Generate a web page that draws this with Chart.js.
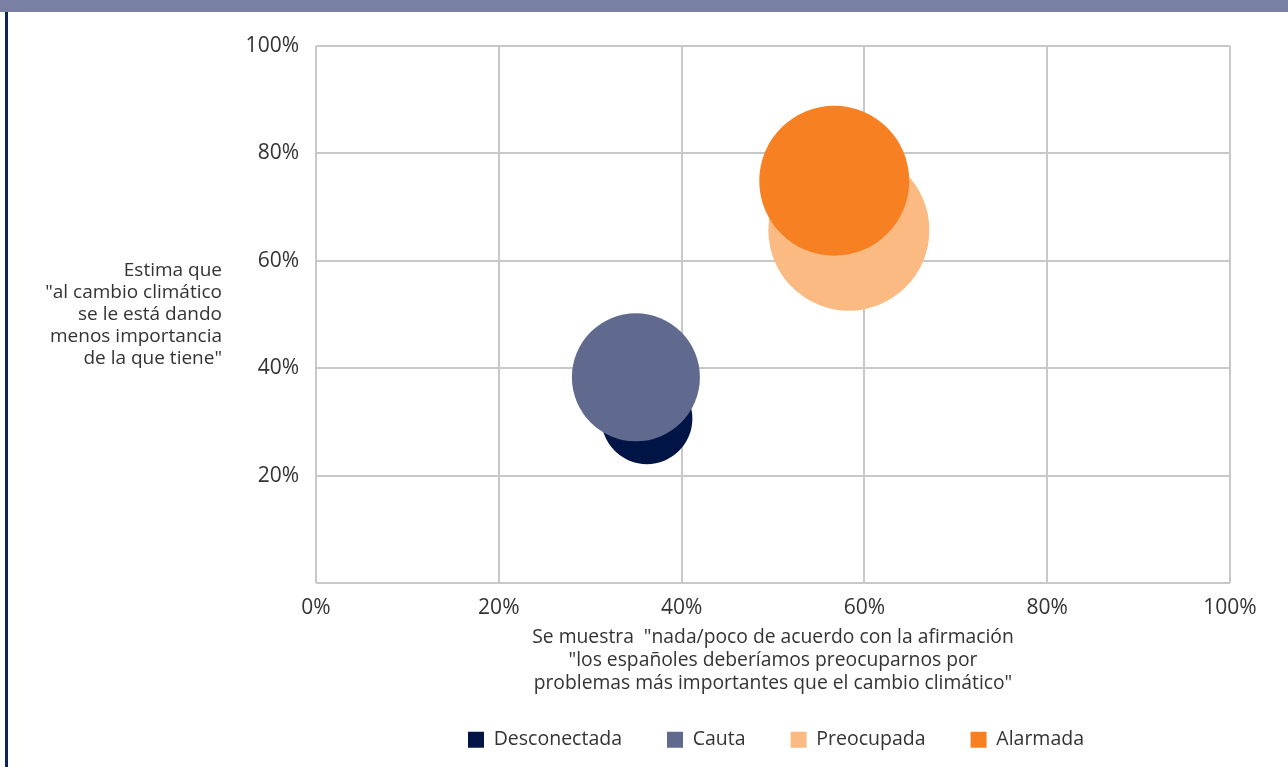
<!DOCTYPE html>
<html><head><meta charset="utf-8">
<script src="https://cdn.jsdelivr.net/npm/chart.js@4.4.1/dist/chart.umd.min.js"></script>
<style>
html,body{margin:0;padding:0;background:#fff;}
#wrap{position:relative;width:1288px;height:767px;overflow:hidden;background:#fff;}
#topbar{position:absolute;left:0;top:0;width:1288px;height:12px;background:#7a80a3;z-index:3}
#leftbar{position:absolute;left:5px;top:0;width:3px;height:767px;background:#0f2456;z-index:2}
canvas{position:absolute;left:0;top:0}
</style></head><body>
<div id="wrap"><canvas id="c" width="1288" height="767"></canvas><div id="topbar"></div><div id="leftbar"></div></div>
<script>
const segments = ['Desconectada', 'Cauta', 'Preocupada', 'Alarmada'];
const xValues = [36.2, 35.0, 58.3, 56.7];
const yValues = [30.6, 38.3, 65.7, 74.9];
const bubbleSizes = [45.5, 64, 80.5, 75];
const segmentColors = ['#001446', '#5f6a8e', '#fbba82', '#f78122'];
const drawOrder = [2, 1, 2, 1];
const xTickValues = [0, 20, 40, 60, 80, 100];
const yTickValues = [0, 20, 40, 60, 80, 100];
const xTitle = ['Se muestra  "nada/poco de acuerdo con la afirmación', '"los españoles deberíamos preocuparnos por', 'problemas más importantes que el cambio climático"'];
const yTitle = ['Estima que', '"al cambio climático', 'se le está dando', 'menos importancia', 'de la que tiene"'];

const FONT = '"Open Sans", "Noto Sans", sans-serif';
const TXT = '#333333';
const GRID = '#c8c8cb';

const yTitlePlugin = {
  id: 'yTitle',
  afterDraw(chart) {
    const ctx = chart.ctx;
    ctx.save();
    ctx.font = '19px ' + FONT;
    ctx.fillStyle = TXT;
    ctx.textAlign = 'right';
    ctx.textBaseline = 'middle';
    const mid = (chart.chartArea.top + chart.chartArea.bottom) / 2;
    const lh = 22;
    const n = yTitle.length;
    yTitle.forEach((t, i) => {
      ctx.fillText(t, 222, mid + 0.5 + (i - (n - 1) / 2) * lh);
    });
    ctx.restore();
  }
};

const legendPlacer = {
  id: 'legendPlacer',
  afterLayout(chart) {
    const lg = chart.legend;
    if (!lg) return;
    const ca = chart.chartArea;
    lg.left = ca.left + 3;
    lg.right = ca.right + 3;
    lg.width = lg.right - lg.left;
    lg.top = 739 - 45 - 9;
  }
};

new Chart(document.getElementById('c'), {
  type: 'bubble',
  data: {
    datasets: segments.map((s, i) => ({
      label: s,
      data: [{ x: xValues[i], y: yValues[i], r: bubbleSizes[i] }],
      backgroundColor: segmentColors[i],
      borderWidth: 0,
      hoverRadius: 0,
      hoverBorderWidth: 0,
      order: drawOrder[i]
    }))
  },
  options: {
    responsive: false,
    animation: false,
    events: [],
    layout: { autoPadding: false, padding: { top: 46, right: 58, bottom: 0, left: 0 } },
    scales: {
      x: {
        type: 'linear', min: 0, max: 100,
        afterBuildTicks: s => { s.ticks = xTickValues.map(v => ({ value: v })); },
        afterFit: s => { s.height = 124; },
        ticks: { callback: v => v + '%', color: TXT, font: { family: FONT, size: 21 }, padding: 12, maxRotation: 0, autoSkip: false },
        grid: { color: GRID, lineWidth: 2, drawTicks: false },
        border: { display: false },
        title: { display: true, text: xTitle, color: TXT, font: { family: FONT, size: 19.3, lineHeight: 23 / 19.3 }, padding: { top: 4, bottom: 11.5 } }
      },
      y: {
        type: 'linear', min: 0, max: 100,
        afterBuildTicks: s => { s.ticks = yTickValues.map(v => ({ value: v })); },
        afterFit: s => { s.width = 316; },
        ticks: { callback: v => v === 0 ? '' : v + '%', color: TXT, font: { family: FONT, size: 21 }, padding: 17, autoSkip: false },
        grid: { color: GRID, lineWidth: 2, drawTicks: false },
        border: { display: false }
      }
    },
    plugins: {
      tooltip: { enabled: false },
      legend: {
        position: 'bottom',
        maxHeight: 60,
        labels: {
          sort: (a, b) => a.datasetIndex - b.datasetIndex,
          boxWidth: 16, boxHeight: 16, padding: 45, color: TXT, font: { family: FONT, size: 19.5 }
        }
      }
    }
  },
  plugins: [yTitlePlugin, legendPlacer]
});
</script>
</body></html>
